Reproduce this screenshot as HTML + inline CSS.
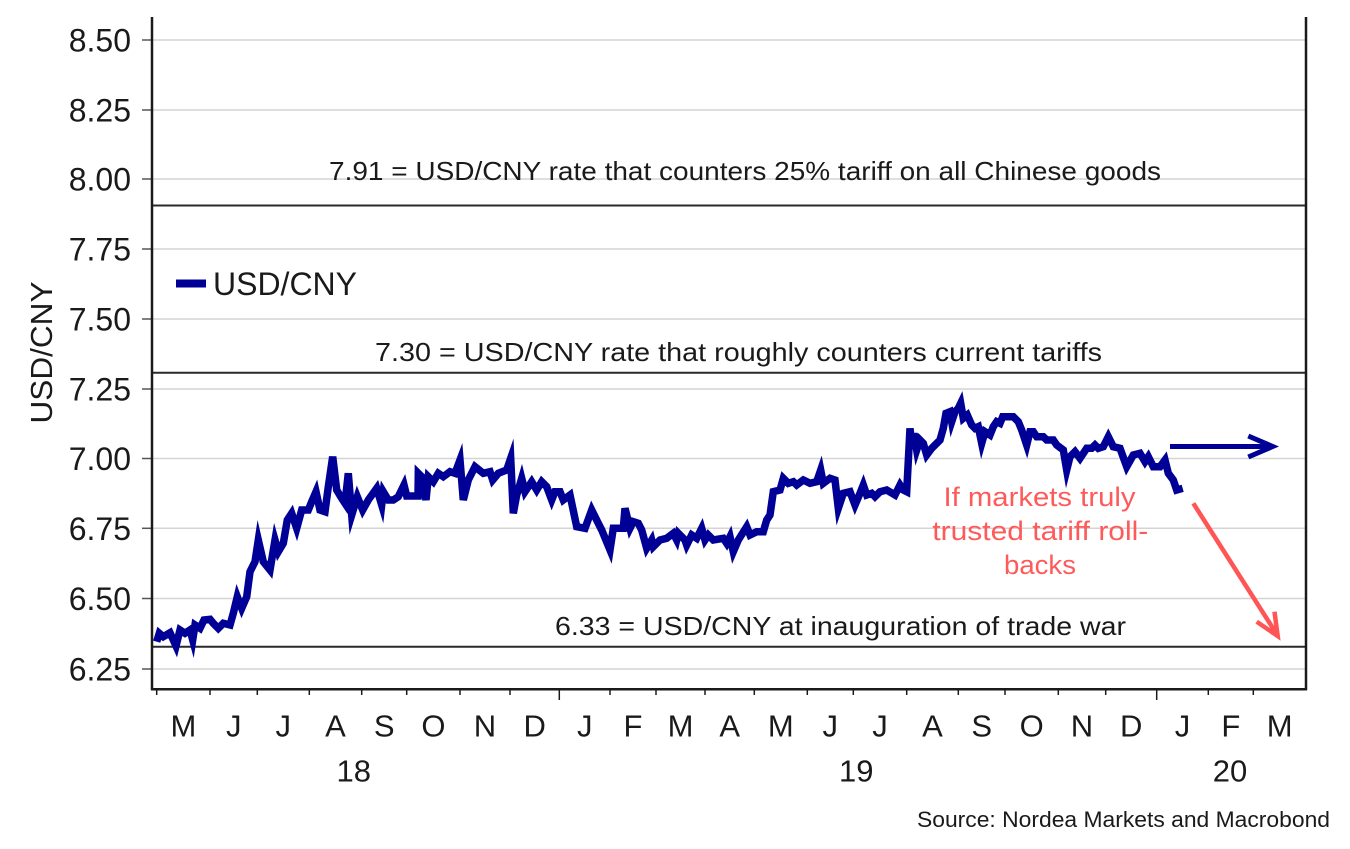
<!DOCTYPE html>
<html>
<head>
<meta charset="utf-8">
<style>
html,body{margin:0;padding:0;background:#fff;}
svg{display:block;}
text{font-family:"Liberation Sans","DejaVu Sans",sans-serif;fill:#1a1a1a;}
text.red{fill:#ff5a5a;}
</style>
</head>
<body>
<svg width="1350" height="849" viewBox="0 0 1350 849" xmlns="http://www.w3.org/2000/svg">
  <rect x="0" y="0" width="1350" height="849" fill="#fff"/>
  <!-- gridlines -->
  <g stroke="#d4d4d4" stroke-width="1.5">
    <line x1="153" y1="40" x2="1306" y2="40"/>
    <line x1="153" y1="110" x2="1306" y2="110"/>
    <line x1="153" y1="179" x2="1306" y2="179"/>
    <line x1="153" y1="249" x2="1306" y2="249"/>
    <line x1="153" y1="319" x2="1306" y2="319"/>
    <line x1="153" y1="389" x2="1306" y2="389"/>
    <line x1="153" y1="458.5" x2="1306" y2="458.5"/>
    <line x1="153" y1="528.3" x2="1306" y2="528.3"/>
    <line x1="153" y1="598.5" x2="1306" y2="598.5"/>
    <line x1="153" y1="669" x2="1306" y2="669"/>
  </g>
  <!-- y ticks -->
  <g stroke="#555" stroke-width="1.5">
    <line x1="142" y1="40" x2="152" y2="40"/>
    <line x1="142" y1="110" x2="152" y2="110"/>
    <line x1="142" y1="179" x2="152" y2="179"/>
    <line x1="142" y1="249" x2="152" y2="249"/>
    <line x1="142" y1="319" x2="152" y2="319"/>
    <line x1="142" y1="389" x2="152" y2="389"/>
    <line x1="142" y1="458.5" x2="152" y2="458.5"/>
    <line x1="142" y1="528.3" x2="152" y2="528.3"/>
    <line x1="142" y1="598.5" x2="152" y2="598.5"/>
    <line x1="142" y1="669" x2="152" y2="669"/>
  </g>
  <!-- y tick labels -->
  <g font-size="32" text-anchor="end">
    <text x="131" y="51.5">8.50</text>
    <text x="131" y="121.5">8.25</text>
    <text x="131" y="190.5">8.00</text>
    <text x="131" y="260.5">7.75</text>
    <text x="131" y="330.5">7.50</text>
    <text x="131" y="400.5">7.25</text>
    <text x="131" y="470">7.00</text>
    <text x="131" y="540">6.75</text>
    <text x="131" y="610">6.50</text>
    <text x="131" y="680.5">6.25</text>
  </g>
  <!-- y axis label -->
  <text transform="translate(52,352.5) rotate(-90)" font-size="31" text-anchor="middle" textLength="142" lengthAdjust="spacingAndGlyphs">USD/CNY</text>

  <!-- reference lines -->
  <g stroke="#2a2a2a" stroke-width="2">
    <line x1="153" y1="205.5" x2="1306" y2="205.5"/>
    <line x1="153" y1="372.7" x2="1306" y2="372.7"/>
    <line x1="153" y1="646.7" x2="1306" y2="646.7"/>
  </g>
  <g font-size="26">
    <text x="329" y="180" textLength="832" lengthAdjust="spacingAndGlyphs">7.91 = USD/CNY rate that counters 25% tariff on all Chinese goods</text>
    <text x="375" y="361" textLength="727" lengthAdjust="spacingAndGlyphs">7.30 = USD/CNY rate that roughly counters current tariffs</text>
    <text x="555" y="635" textLength="571" lengthAdjust="spacingAndGlyphs">6.33 = USD/CNY at inauguration of trade war</text>
  </g>

  <!-- legend -->
  <line x1="176" y1="283.5" x2="206" y2="283.5" stroke="#000096" stroke-width="8"/>
  <text x="213" y="295" font-size="32" textLength="144" lengthAdjust="spacingAndGlyphs">USD/CNY</text>

  <!-- series -->
  <polyline fill="none" stroke="#000096" stroke-width="7.5" stroke-linejoin="miter" stroke-miterlimit="6" points="
156.7,641.7 159.3,633.3 163.3,636.7 170,632.7 176,646 180,630 185,633.3 190,630 192.7,640 195,625 200,628.3 204,620 210,619.3 213.3,623.3 218.3,628.3 223.3,623.3 230,625 233.3,613.3 237.3,596.7 241.7,608.3 246.7,596.7 250,571.7 255,561.7 258.3,540 263.3,561.7 270,570 275,540 278.3,551.7 283.3,543.3 287.3,520 291.7,513.3 296.7,528.3 301.7,510 308.3,510 311.7,501.7 316,491.7 320,510 325,511.7 328.3,486.7 332.7,456.7 336.7,490 341.7,498.3 345,503.3 348.3,473.3 351.7,515 357.3,496.7 362.7,510 368.3,500 376.7,488.3 381.7,505 383.3,491.7 388.3,500 393.3,500 398.3,496.7 404,485 406.7,496 418,496 418.3,473.3 421.7,476.7 426,500 428.3,476.7 433.3,481.7 438.3,473.3 443.3,476.7 450,471.7 455,473.3 460,460 463.3,500 468.3,480 475,466.7 483.3,473.3 490,471.7 492.7,480 498.3,473.3 506.7,470 510.7,458.3 513.3,513.3 516.7,495 518.3,490 521.7,478.3 525,491.7 531.7,481.7 536.7,490 541.7,481.7 546.7,486.7 551.7,500 555,491.7 560,491.7 563.3,500 570,495 576.7,526.7 585,528.3 591.7,510 598.3,523.3 601.7,530 610,550 613.3,528.3 623.3,528.3 625,508.3 630,528.3 633.3,521.7 638.3,523.3 641.7,530 646.7,548.3 651.7,540 653.3,546.7 660,540 666.7,538.3 673.3,533.3 676.7,540 678.3,533.3 685,540 686.7,545 691.7,535 696.7,538.3 701.7,528.3 705,540 708.3,535 713.3,540 723.3,538.3 726.7,543.3 730,536.7 733.3,551.7 738.3,540 746.7,526.7 750,535 756.7,531.7 763.3,531.7 766.7,520 770,515 773.3,491.7 780,490 783.3,478.3 788.3,483.3 793.3,481.7 796.7,485 803.3,480 810,483.3 816.7,481.7 820.7,470 823.3,483.3 830,478.3 835,480 838.3,508.3 843.3,493.3 850,491.7 855,505 860,493.3 863.3,485 866.7,495 871.7,493.3 875,496.7 880,491.7 886.7,490 895,495 900,485 903.3,490 906.7,491.7 910,428.3 911.7,446.7 914,433.3 916.7,450 920,440 923.3,443.3 926.7,455 931.7,448.3 940,440 943.3,428.3 946,413.3 950,411.7 951.7,421.7 955,411.7 958.3,408.3 960.7,403.3 963.3,418.3 967.3,415 971.7,425 975,428.3 978.3,426.7 981.7,443.3 985,431.7 990,435 993.3,426.7 996.7,421.7 1000,423.3 1002.7,416.7 1013.3,416.7 1018.3,421.7 1021.7,430 1026.7,445 1030,431.7 1033.3,431.7 1036.7,436.7 1043.3,436.7 1046.7,440 1053.3,440 1056.7,445 1063.3,450 1066.7,470 1070,456.7 1075,451.7 1080,458.3 1086.7,448.3 1091.7,448.3 1095,445 1098.3,448.3 1103.3,446.7 1108.3,436.7 1113.3,446.7 1120,448.3 1126.7,466.7 1133.3,455 1140,453.3 1145,461.7 1148.3,456.7 1153.3,466.7 1160,466.7 1165,460 1168.3,473.3 1173.3,480 1176.7,490 1182.7,488.3"/>

  <!-- blue arrow -->
  <g stroke="#000096" stroke-width="5" fill="none" stroke-linecap="butt">
    <line x1="1170" y1="446.5" x2="1271" y2="446.5"/>
    <polyline points="1248.3,436 1272.7,446.5 1248.3,457"/>
  </g>

  <!-- red arrow -->
  <g stroke="#ff5555" stroke-width="4.5" fill="none">
    <line x1="1193.3" y1="503.3" x2="1276" y2="633"/>
    <polyline points="1256.7,621.7 1277.7,636 1274.5,611.7"/>
  </g>
  <g font-size="27" text-anchor="middle">
    <text class="red" style="fill:#ff5a5a" x="1039.5" y="506" textLength="192" lengthAdjust="spacingAndGlyphs">If markets truly</text>
    <text class="red" style="fill:#ff5a5a" x="1040.3" y="540" textLength="216" lengthAdjust="spacingAndGlyphs">trusted tariff roll-</text>
    <text class="red" style="fill:#ff5a5a" x="1040" y="574" textLength="72" lengthAdjust="spacingAndGlyphs">backs</text>
  </g>

  <!-- axes frame -->
  <g stroke="#1a1a1a" stroke-width="2.5" fill="none">
    <line x1="152" y1="17" x2="152" y2="690"/>
    <line x1="1306" y1="17" x2="1306" y2="690"/>
    <line x1="151" y1="689.3" x2="1307" y2="689.3"/>
  </g>
  <!-- x ticks -->
  <g stroke="#1a1a1a" stroke-width="1.5">
    <line x1="156.7" y1="689" x2="156.7" y2="695"/>
    <line x1="210" y1="689" x2="210" y2="695"/>
    <line x1="257.3" y1="689" x2="257.3" y2="695"/>
    <line x1="309.3" y1="689" x2="309.3" y2="695"/>
    <line x1="361.7" y1="689" x2="361.7" y2="695"/>
    <line x1="406.7" y1="689" x2="406.7" y2="695"/>
    <line x1="460" y1="689" x2="460" y2="695"/>
    <line x1="510" y1="689" x2="510" y2="695"/>
    <line x1="559.3" y1="689" x2="559.3" y2="700"/>
    <line x1="610" y1="689" x2="610" y2="695"/>
    <line x1="656" y1="689" x2="656" y2="695"/>
    <line x1="705" y1="689" x2="705" y2="695"/>
    <line x1="754.3" y1="689" x2="754.3" y2="695"/>
    <line x1="807.3" y1="689" x2="807.3" y2="695"/>
    <line x1="853.3" y1="689" x2="853.3" y2="695"/>
    <line x1="906.7" y1="689" x2="906.7" y2="695"/>
    <line x1="958.3" y1="689" x2="958.3" y2="695"/>
    <line x1="1005" y1="689" x2="1005" y2="695"/>
    <line x1="1058.3" y1="689" x2="1058.3" y2="695"/>
    <line x1="1105.7" y1="689" x2="1105.7" y2="695"/>
    <line x1="1156.7" y1="689" x2="1156.7" y2="700"/>
    <line x1="1208.3" y1="689" x2="1208.3" y2="695"/>
    <line x1="1253.3" y1="689" x2="1253.3" y2="695"/>
  </g>
  <!-- month labels -->
  <g font-size="31" text-anchor="middle">
    <text x="183.4" y="736.5">M</text>
    <text x="233.7" y="736.5">J</text>
    <text x="283.3" y="736.5">J</text>
    <text x="335.5" y="736.5">A</text>
    <text x="384.2" y="736.5">S</text>
    <text x="433.4" y="736.5">O</text>
    <text x="485" y="736.5">N</text>
    <text x="534.7" y="736.5">D</text>
    <text x="584.7" y="736.5">J</text>
    <text x="633" y="736.5">F</text>
    <text x="680.5" y="736.5">M</text>
    <text x="729.7" y="736.5">A</text>
    <text x="780.8" y="736.5">M</text>
    <text x="830.3" y="736.5">J</text>
    <text x="880" y="736.5">J</text>
    <text x="932.5" y="736.5">A</text>
    <text x="981.7" y="736.5">S</text>
    <text x="1031.7" y="736.5">O</text>
    <text x="1082" y="736.5">N</text>
    <text x="1131.2" y="736.5">D</text>
    <text x="1182.5" y="736.5">J</text>
    <text x="1230.8" y="736.5">F</text>
    <text x="1279.7" y="736.5">M</text>
  </g>
  <g font-size="31" text-anchor="middle">
    <text x="353.7" y="781.5">18</text>
    <text x="856.3" y="781.5">19</text>
    <text x="1230" y="781.5">20</text>
  </g>
  <!-- source -->
  <text x="917" y="827" font-size="22.5" textLength="413" lengthAdjust="spacingAndGlyphs">Source: Nordea Markets and Macrobond</text>
</svg>
</body>
</html>
